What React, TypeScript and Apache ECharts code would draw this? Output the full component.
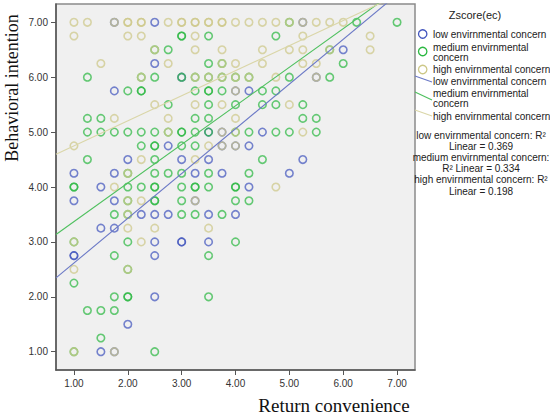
import React, { useEffect, useRef } from "react";
import * as echarts from "echarts";

const groupNames = ["low envirnmental concern", "medium envirnmental concern", "high envirnmental concern"];

// [Return convenience, Behavioral intention]
const lowPoints: [number, number][] = [
  [1.75, 7], [2.5, 7], [5.25, 7],
  [6.0, 6.5],
  [2.5, 6.25],
  [3.0, 6.0], [5.5, 6.0],
  [1.75, 5.75], [4.0, 5.75], [4.25, 5.75],
  [3.5, 5.0], [3.75, 5.0], [4.5, 5.0],
  [2.75, 4.75], [3.75, 4.75], [4.0, 4.75], [4.25, 4.75],
  [2.0, 4.5], [3.0, 4.5], [3.5, 4.5], [5.25, 4.5],
  [1.0, 4.25], [1.75, 4.25], [3.25, 4.25], [3.75, 4.25], [5.0, 4.25],
  [1.5, 4.0], [4.25, 4.0],
  [1.0, 3.75], [1.75, 3.75], [3.25, 3.75],
  [2.25, 3.5], [2.5, 3.5], [2.75, 3.5], [3.5, 3.5], [4.0, 3.5],
  [1.5, 3.25], [1.75, 3.25],
  [2.5, 3.0], [3.0, 3.0], [3.0, 3.0], [3.5, 3.0],
  [1.0, 2.75], [1.0, 2.75], [2.5, 2.75],
  [2.5, 2.0],
  [2.0, 1.5],
  [1.5, 1.0], [1.75, 1.0],
];

const mediumPoints: [number, number][] = [
  [5.0, 7], [6.25, 7], [7.0, 7],
  [3.0, 6.75], [3.0, 6.75], [3.5, 6.75], [4.75, 6.75],
  [2.5, 6.5], [2.75, 6.5], [5.75, 6.5],
  [3.5, 6.25], [3.75, 6.25], [6.0, 6.25],
  [1.25, 6.0], [2.25, 6.0], [2.5, 6.0], [3.0, 6.0], [3.25, 6.0], [3.5, 6.0], [3.75, 6.0], [4.0, 6.0], [4.25, 6.0], [5.0, 6.0], [5.75, 6.0],
  [2.0, 5.75], [2.25, 5.75], [2.25, 5.75], [3.25, 5.75], [3.5, 5.75], [3.5, 5.75], [3.75, 5.75], [4.5, 5.75], [4.75, 5.75],
  [2.75, 5.5], [3.5, 5.5], [4.0, 5.5], [4.5, 5.5], [4.75, 5.5], [5.25, 5.5],
  [1.25, 5.25], [1.5, 5.25], [3.25, 5.25], [3.5, 5.25], [5.25, 5.25], [5.5, 5.25],
  [1.25, 5.0], [1.5, 5.0], [1.75, 5.0], [2.0, 5.0], [2.25, 5.0], [2.5, 5.0], [2.75, 5.0], [3.0, 5.0], [3.0, 5.0],
  [3.25, 5.0], [3.5, 5.0], [4.0, 5.0], [4.25, 5.0], [4.75, 5.0], [5.0, 5.0], [5.5, 5.0],
  [2.25, 4.75], [2.5, 4.75], [2.5, 4.75], [3.0, 4.75], [3.25, 4.75],
  [1.25, 4.5], [2.5, 4.5], [4.5, 4.5],
  [2.0, 4.25], [2.5, 4.25], [2.75, 4.25], [3.0, 4.25], [3.5, 4.25], [4.25, 4.25],
  [1.0, 4.0], [1.0, 4.0], [2.0, 4.0], [2.25, 4.0], [2.5, 4.0], [2.5, 4.0], [3.0, 4.0], [3.25, 4.0], [3.25, 4.0], [3.5, 4.0], [4.0, 4.0], [4.0, 4.0],
  [2.0, 3.75], [2.5, 3.75], [2.5, 3.75], [3.0, 3.75], [4.0, 3.75], [4.25, 3.75],
  [1.75, 3.5], [2.0, 3.5], [3.0, 3.5], [3.25, 3.5], [3.75, 3.5],
  [1.0, 3.0], [2.0, 3.0], [4.0, 3.0],
  [1.75, 2.75], [3.5, 2.75],
  [2.0, 2.5],
  [1.0, 2.25],
  [1.75, 2.0], [2.0, 2.0], [2.0, 2.0], [3.5, 2.0],
  [1.25, 1.75], [1.5, 1.75], [1.75, 1.75],
  [1.5, 1.25],
  [1.0, 1.0], [2.5, 1.0],
];

const highPoints: [number, number][] = [
  [1.0, 7], [1.25, 7], [1.75, 7], [2.0, 7], [2.0, 7], [2.25, 7], [2.25, 7], [2.75, 7], [3.0, 7], [3.0, 7],
  [3.25, 7], [3.25, 7], [3.5, 7], [3.5, 7], [3.75, 7], [3.75, 7],
  [4.0, 7], [4.25, 7], [4.5, 7], [4.75, 7], [5.0, 7], [5.25, 7], [5.5, 7], [5.75, 7], [6.0, 7],
  [1.0, 6.75], [2.0, 6.75], [2.25, 6.75], [3.25, 6.75], [5.25, 6.75], [6.5, 6.75],
  [2.5, 6.5], [3.25, 6.5], [3.75, 6.5], [4.5, 6.5], [5.0, 6.5], [5.25, 6.5], [5.75, 6.5], [6.5, 6.5],
  [1.5, 6.25], [2.75, 6.25], [3.75, 6.25], [4.0, 6.25], [4.5, 6.25], [5.25, 6.25], [5.5, 6.25],
  [2.25, 6.0], [3.25, 6.0], [3.5, 6.0], [3.75, 6.0], [4.0, 6.0], [4.25, 6.0], [4.75, 6.0], [5.5, 6.0],
  [4.0, 5.75],
  [2.5, 5.5], [3.25, 5.5], [3.75, 5.5], [5.0, 5.5],
  [1.75, 5.25], [2.75, 5.25], [4.0, 5.25],
  [2.75, 5.0], [3.75, 5.0], [4.0, 5.0], [5.25, 5.0],
  [1.0, 4.75], [3.5, 4.75], [3.75, 4.75], [4.0, 4.75],
  [2.25, 4.5], [3.25, 4.5],
  [2.0, 4.25],
  [1.75, 4.0], [4.75, 4.0],
  [2.0, 3.75], [2.25, 3.75], [3.25, 3.75],
  [2.0, 3.5],
  [2.0, 3.25], [2.5, 3.25], [3.5, 3.25],
  [1.0, 3.0], [2.25, 3.0],
  [1.0, 2.5], [2.0, 2.5],
  [1.0, 1.0], [1.75, 1.0],
];

const fitIntercepts = [1.8, 2.666, 4.29];
const fitSlopes = [0.815, 0.703, 0.457];
const rSquared = [0.369, 0.334, 0.198];
const tickValues = [1, 2, 3, 4, 5, 6, 7];
const axisMin = 2 / 3;
const axisMax = 22 / 3;

const pointColors = ["#4356BE", "#2CB842", "#CDC888"];
const lineColors = ["#6B79C6", "#4FC05F", "#DAD6A8"];

const SANS = '"Liberation Sans", Arial, sans-serif';
const SERIF = '"Liberation Serif", "Times New Roman", serif';

export default function App() {
  const ref = useRef<HTMLDivElement>(null);
  useEffect(() => {
    document.body.style.margin = "0";
    if (!ref.current) return;
    const chart = echarts.init(ref.current, null, { renderer: "svg" });
    const pointSets = [lowPoints, mediumPoints, highPoints];

    const scatterSeries = pointSets.map((pts, i) => ({
      type: "scatter",
      name: groupNames[i],
      data: pts,
      symbol: "circle",
      symbolSize: 7.5,
      itemStyle: { color: "none", borderColor: pointColors[i], borderWidth: 1.6, opacity: 0.72 },
      emphasis: { disabled: true },
      z: 2,
    }));

    const lineSeries = fitIntercepts.map((a, i) => ({
      type: "line",
      name: groupNames[i] + " fit",
      data: [
        [axisMin, a + fitSlopes[i] * axisMin],
        [axisMax, a + fitSlopes[i] * axisMax],
      ],
      symbol: "none",
      clip: true,
      lineStyle: { color: lineColors[i], width: 1.1 },
      z: 3,
    }));

    const legendText = (x: number, y: number, text: string, align = "left") => ({
      type: "text",
      x,
      y,
      style: {
        text,
        fill: "#222",
        font: `10px ${SANS}`,
        textAlign: align,
        textVerticalAlign: "middle",
        align,
        verticalAlign: "middle",
        lineHeight: 10,
      },
    });

    const legendCircle = (y: number, color: string) => ({
      type: "circle",
      shape: { cx: 422.7, cy: y, r: 4.2 },
      style: { fill: "none", stroke: color, lineWidth: 1.3 },
    });

    const legendLine = (y1: number, y2: number, color: string) => ({
      type: "line",
      shape: { x1: 415, y1, x2: 432, y2 },
      style: { stroke: color, lineWidth: 1.1 },
    });

    const graphic: any[] = [
      {
        type: "text",
        x: 12,
        y: 88,
        rotation: Math.PI / 2,
        style: {
          text: "Behavioral intention",
          fill: "#111",
          font: `18px ${SERIF}`,
          textAlign: "center",
          textVerticalAlign: "middle",
          align: "center",
          verticalAlign: "middle",
        },
      },
      {
        type: "text",
        x: 334,
        y: 405,
        style: {
          text: "Return convenience",
          fill: "#111",
          font: `19px ${SERIF}`,
          textAlign: "center",
          textVerticalAlign: "middle",
          align: "center",
          verticalAlign: "middle",
        },
      },
      {
        type: "text",
        x: 475,
        y: 15,
        style: {
          text: "Zscore(ec)",
          fill: "#222",
          font: `11px ${SANS}`,
          textAlign: "center",
          textVerticalAlign: "middle",
          align: "center",
          verticalAlign: "middle",
        },
      },
      legendCircle(34, pointColors[0]),
      legendText(433, 34, groupNames[0]),
      legendCircle(51.5, pointColors[1]),
      legendText(433, 52, "medium envirnmental\nconcern"),
      legendCircle(69.5, pointColors[2]),
      legendText(433, 69.5, groupNames[2]),
      legendLine(76, 82, lineColors[0]),
      legendText(433, 81.5, groupNames[0]),
      legendLine(92, 100, lineColors[1]),
      legendText(433, 98.5, "medium envirnmental\nconcern"),
      legendLine(110, 116, lineColors[2]),
      legendText(433, 116, groupNames[2]),
      legendText(481, 135, "low envirnmental concern: R²", "center"),
      legendText(481, 146, "Linear = " + rSquared[0].toFixed(3), "center"),
      legendText(481, 157.5, "medium envirnmental concern:", "center"),
      legendText(481, 168, "R² Linear = " + rSquared[1].toFixed(3), "center"),
      legendText(481, 179.5, "high envirnmental concern: R²", "center"),
      legendText(481, 191, "Linear = " + rSquared[2].toFixed(3), "center"),
    ];

    const axisCommon = {
      type: "value",
      min: axisMin,
      max: axisMax,
      splitLine: { show: false },
      axisLine: { show: true, lineStyle: { color: "#555", width: 1.5 } },
      axisTick: { show: true, customValues: tickValues, length: 5, lineStyle: { color: "#555", width: 1 } },
      axisLabel: {
        customValues: tickValues,
        formatter: (v: number) => v.toFixed(2),
        fontSize: 10,
        fontFamily: SANS,
        color: "#333",
        margin: 8,
      },
    };

    chart.setOption({
      animation: false,
      backgroundColor: "#ffffff",
      grid: {
        left: 56,
        top: 4,
        width: 359,
        height: 366,
        show: true,
        backgroundColor: "#F0F0F0",
        borderColor: "#8a8a8a",
        borderWidth: 1.5,
      },
      xAxis: { ...axisCommon },
      yAxis: { ...axisCommon },
      series: [...scatterSeries, ...lineSeries],
      graphic,
    } as any);

    return () => chart.dispose();
  }, []);

  return <div ref={ref} style={{ width: 550, height: 417 }} />;
}
